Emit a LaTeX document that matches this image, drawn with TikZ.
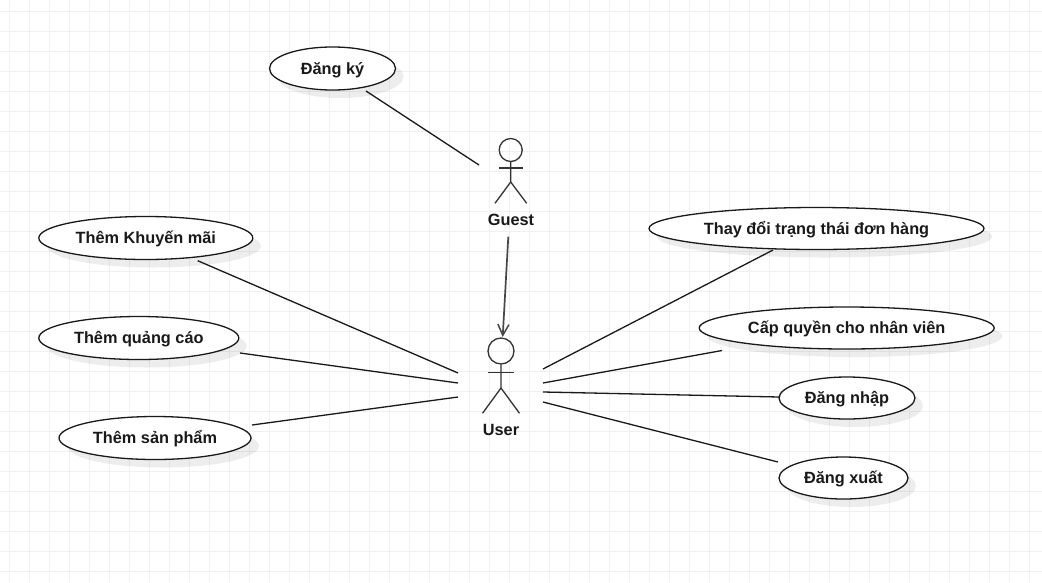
\documentclass[tikz,border=0pt]{standalone}
\usepackage{fontspec}
\setmainfont{Liberation Sans}
\usetikzlibrary{shapes.geometric,shadows,arrows.meta}
\tikzset{
  x=1pt,y=-1pt,
  usecase/.style={ellipse,draw=black!90,line width=1.3pt,fill=white,inner sep=0pt,
    text height=13pt,text depth=1.5pt,
    font=\fontsize{16.3}{18}\selectfont\bfseries,text=black!90,
    general shadow={shadow xshift=8pt,shadow yshift=-8pt,fill=black,opacity=.07}},
  actorlabel/.style={inner sep=0pt,font=\fontsize{16.3}{18}\selectfont\bfseries,text=black!90},
  link/.style={draw=black!90,line width=1.3pt},
  stick/.style={draw=black!80,line width=1.3pt},
  head/.style={circle,draw=black!80,line width=1.3pt,fill=none,inner sep=0pt},
  assoc/.style={draw=black!72,line width=1.7pt,-{Straight Barb[length=11pt,width=11pt,line width=1.5pt]}},
  gridline/.style={draw=black!6,line width=1pt}
}
\begin{document}
\begin{tikzpicture}
\useasboundingbox (0,0) rectangle (1042,582);
\fill[white] (0,0) rectangle (1042,582);
\foreach \gx in {9.5,29.5,...,1030} \draw[gridline] (\gx,0) -- (\gx,582);
\foreach \gy in {11.5,31.5,...,582} \draw[gridline] (0,\gy) -- (1042,\gy);

\node[usecase,minimum width=126pt,minimum height=43pt] (dangky) at (332.5,68.5) {Đăng ký};
\node[usecase,minimum width=214pt,minimum height=43pt] (khuyenmai) at (145.8,238) {Thêm Khuyến mãi};
\node[usecase,minimum width=200pt,minimum height=43pt] (quangcao) at (138.8,338) {Thêm quảng cáo};
\node[usecase,minimum width=192pt,minimum height=43pt] (sanpham) at (155,438) {Thêm sản phẩm};
\node[usecase,minimum width=335pt,minimum height=42pt] (trangthai) at (816.5,228.5) {Thay đổi trạng thái đơn hàng};
\node[usecase,minimum width=295pt,minimum height=42pt] (capquyen) at (846.7,328) {Cấp quyền cho nhân viên};
\node[usecase,minimum width=136pt,minimum height=42pt] (dangnhap) at (847,398) {Đăng nhập};
\node[usecase,minimum width=129pt,minimum height=42pt] (dangxuat) at (843.5,478) {Đăng xuất};

% Guest actor
\node[head,minimum size=23pt] (guesthead) at (510.7,150) {};
\coordinate (guesthip) at (510.7,182);
\coordinate (guestarmL) at (499.3,168);
\coordinate (guestarmR) at (522.7,168);
\coordinate (guestlegL) at (495,203.3);
\coordinate (guestlegR) at (526.7,203.3);
\draw[stick] (guesthead.south) -- (guesthip) -- (guestlegL);
\draw[stick] (guesthip) -- (guestlegR);
\draw[stick] (guestarmL) -- (guestarmR);
\node[actorlabel] (guest) at (511,220) {Guest};

% User actor
\node[head,minimum size=26pt] (userhead) at (501,351) {};
\coordinate (userhip) at (501,388);
\coordinate (userarmL) at (487.7,372.7);
\coordinate (userarmR) at (514.3,372.7);
\coordinate (userlegL) at (482.5,413.3);
\coordinate (userlegR) at (519.5,413.3);
\draw[stick] (userhead.south) -- (userhip) -- (userlegL);
\draw[stick] (userhip) -- (userlegR);
\draw[stick] (userarmL) -- (userarmR);
\node[actorlabel] (user) at (501,430) {User};

% free connector ends
\coordinate (gA) at (479,165);
\coordinate (dkA) at (366,91);
\coordinate (gB) at (508.3,236.7);
\coordinate (uT) at (502.7,337);
\coordinate (kmA) at (197.7,260.7);
\coordinate (uL1) at (458,373);
\coordinate (qcA) at (240,353);
\coordinate (uL2) at (458,383);
\coordinate (spA) at (252,425);
\coordinate (uL3) at (458,397);
\coordinate (uR1) at (543,369);
\coordinate (ttA) at (773,250);
\coordinate (uR2) at (543,383);
\coordinate (cqA) at (722,350.5);
\coordinate (uR3) at (543,392);
\coordinate (dnA) at (779,397);
\coordinate (uR4) at (543,402);
\coordinate (dxA) at (778,462);

\draw[link] (dkA) -- (gA);
\draw[assoc] (gB) -- (uT);
\draw[link] (kmA) -- (uL1);
\draw[link] (qcA) -- (uL2);
\draw[link] (spA) -- (uL3);
\draw[link] (uR1) -- (ttA);
\draw[link] (uR2) -- (cqA);
\draw[link] (uR3) -- (dnA);
\draw[link] (uR4) -- (dxA);
\end{tikzpicture}
\end{document}
